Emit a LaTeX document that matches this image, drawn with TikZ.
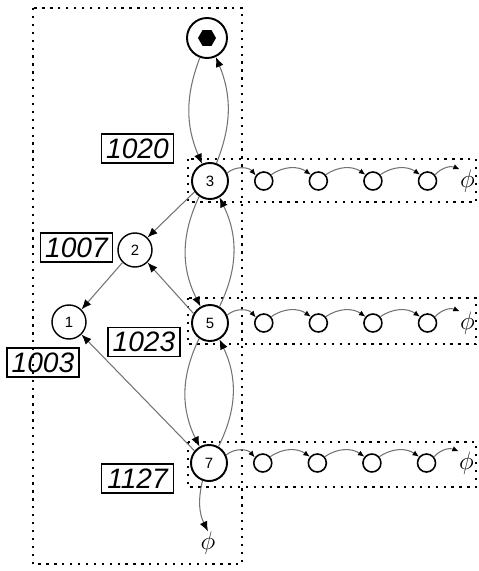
\documentclass[tikz,border=0pt]{standalone}
\usepackage{fontspec}
\setsansfont{Liberation Sans}
\usepackage{tikz}
\usetikzlibrary{positioning}
\usetikzlibrary{arrows.meta}
\usetikzlibrary{shapes.geometric}
\tikzset{
key_node/.style={circle, draw, line width=1.1pt, minimum size=7.2mm, inner sep=0pt, font=\sffamily\fontsize{8.5}{8.5}\selectfont},
inner_node/.style={circle, draw, line width=0.8pt, minimum size=6.8mm, inner sep=0pt, font=\sffamily\fontsize{8.5}{8.5}\selectfont},
small_node/.style={circle, draw, line width=0.9pt, minimum size=3.6mm, inner sep=0pt},
null_mark/.style={inner sep=0pt, font=\fontsize{15}{15}\selectfont},
key_label/.style={rectangle, draw, line width=0.7pt, minimum width=14.4mm, minimum height=5.8mm, inner sep=1pt, font=\sffamily\itshape\fontsize{16}{16}\selectfont},
dot_box/.style={line width=1.3pt, dash pattern=on 1.3pt off 3.2pt},
link/.style={draw=black!55, line width=0.6pt, -{Latex[black, length=2mm, width=1.6mm]}},
chain_link/.style={draw=black!55, line width=0.6pt, -{Latex[black, length=1.3mm, width=1.1mm]}}
}

\begin{document}
\begin{tikzpicture}[x=0.2mm, y=-0.2mm]
    \useasboundingbox (0,0) rectangle (479,571);
    % dotted boxes
    \draw[dot_box] (33,8) rectangle (242,564);
    \draw[dot_box] (188,159) rectangle (476,202);
    \draw[dot_box] (188,298) rectangle (476,344);
    \draw[dot_box] (188,442) rectangle (476,487);

    \node[circle, draw, line width=1.1pt, minimum size=8mm, fill=white] (root) at (207,38) {};
    \node[regular polygon, regular polygon sides=6, fill=black, minimum size=3.6mm, inner sep=0pt] at (root) {};
    \node[key_node, fill=white] (node_3) at (210,181) {3};
    \node[inner_node] (node_2) at (135,250) {2};
    \node[inner_node] (node_1) at (69,322) {1};
    \node[key_node, fill=white] (node_5) at (210,323) {5};
    \node[key_node, fill=white] (node_7) at (209,463) {7};
    \node[null_mark] (nil_7) at (208,543) {$\phi$};

    \node[key_label] (label_3) at (137.5,148.5) {1020};
    \node[key_label] (label_2) at (76.5,247.5) {1007};
    \node[key_label] (label_1) at (43,362.5) {1003};
    \node[key_label] (label_5) at (144,342) {1023};
    \node[key_label] (label_7) at (137.5,478.5) {1127};

    % rows of records
    \foreach \n in {3,5,7} {
        \node[small_node] (c_\n_1) [right=5mm of node_\n] {};
        \node[small_node] (c_\n_2) [right=7mm of c_\n_1] {};
        \node[small_node] (c_\n_3) [right=7mm of c_\n_2] {};
        \node[small_node] (c_\n_4) [right=7mm of c_\n_3] {};
        \node[null_mark] (end_\n) [right=4.5mm of c_\n_4] {$\phi$};
        \draw[chain_link] (node_\n.25) to[bend left=45] (c_\n_1.145);
        \draw[chain_link] (c_\n_1.40) to[bend left=35] (c_\n_2.140);
        \draw[chain_link] (c_\n_2.40) to[bend left=35] (c_\n_3.140);
        \draw[chain_link] (c_\n_3.40) to[bend left=35] (c_\n_4.140);
        \draw[chain_link] (c_\n_4.40) to[bend left=35] (end_\n.north west);
    }

    \draw[link] (root.250) to[bend right=22] (node_3.115);
    \draw[link] (node_3.70) to[bend right=22] (root.295);
    \draw[link] (node_3.235) to[bend right=26] (node_5.120);
    \draw[link] (node_5.60) to[bend right=26] (node_3.300);
    \draw[link] (node_5.235) to[bend right=26] (node_7.120);
    \draw[link] (node_7.60) to[bend right=26] (node_5.300);
    \draw[link] (node_3.215) -- (node_2.45);
    \draw[link] (node_5.150) -- (node_2.-45);
    \draw[link] (node_2.225) -- (node_1.45);
    \draw[link] (node_7.140) -- (node_1.-45);
    \draw[link] (node_7.250) to[bend right=20] (nil_7.north);
\end{tikzpicture}
\end{document}
